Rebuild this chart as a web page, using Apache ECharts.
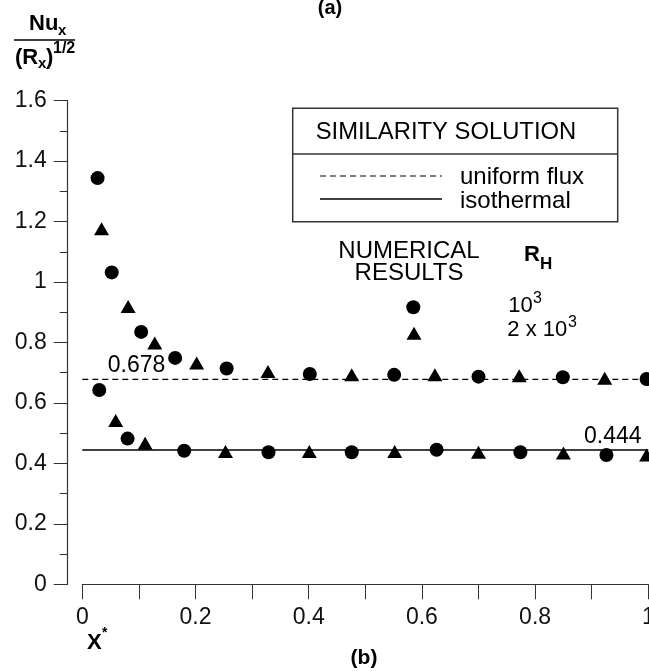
<!DOCTYPE html>
<html>
<head>
<meta charset="utf-8">
<script src="https://cdn.jsdelivr.net/npm/echarts@6/dist/echarts.min.js"></script>
<style>
  html, body { margin: 0; padding: 0; background: #fff; }
  #chart { width: 649px; height: 672px; }
</style>
</head>
<body>
<div id="chart"></div>
<script>
// ---- Data ----
const uniformFluxValue = 0.678;
const isothermalValue = 0.444;
const xTickLabels = ['0', '0.2', '0.4', '0.6', '0.8', '1'];
const yTickLabels = ['0', '0.2', '0.4', '0.6', '0.8', '1', '1.2', '1.4', '1.6'];

// R_H = 10^3 (circles), uniform flux case
const circlesUniformFlux = [
  [0.027, 1.344], [0.052, 1.032], [0.104, 0.835], [0.164, 0.749], [0.255, 0.714],
  [0.402, 0.696], [0.551, 0.693], [0.700, 0.687], [0.849, 0.685], [0.997, 0.679]
];
// R_H = 2 x 10^3 (triangles), uniform flux case
const trianglesUniformFlux = [
  [0.034, 1.176], [0.081, 0.919], [0.128, 0.798], [0.202, 0.732], [0.328, 0.704],
  [0.476, 0.693], [0.623, 0.693], [0.772, 0.690], [0.923, 0.682]
];
// R_H = 10^3 (circles), isothermal case
const circlesIsothermal = [
  [0.030, 0.643], [0.080, 0.482], [0.180, 0.442], [0.329, 0.437], [0.476, 0.437],
  [0.626, 0.445], [0.774, 0.437], [0.926, 0.428]
];
// R_H = 2 x 10^3 (triangles), isothermal case
const trianglesIsothermal = [
  [0.059, 0.542], [0.111, 0.467], [0.253, 0.439], [0.401, 0.439], [0.552, 0.439],
  [0.700, 0.437], [0.850, 0.434], [0.997, 0.428]
];

// ---- Chart ----
const FONT = 'Liberation Sans, Arial, Helvetica, sans-serif';
const chart = echarts.init(document.getElementById('chart'), null, { renderer: 'canvas' });

function txt(text, x, y, size, opts) {
  opts = opts || {};
  return {
    type: 'text', x: x, y: y, z: 100,
    style: {
      text: text, fontSize: size, fontFamily: FONT,
      fontWeight: opts.bold ? 'bold' : 'normal',
      fill: '#000', align: opts.align || 'left', verticalAlign: 'middle'
    }
  };
}

const scatterBase = {
  type: 'scatter',
  itemStyle: { color: '#000', opacity: 1 },
  silent: true,
  clip: false
};

chart.setOption({
  animation: false,
  backgroundColor: '#fff',
  grid: { left: 82.3, right: 0.7, top: 100.7, bottom: 87.7, containLabel: false, outerBoundsMode: 'none' },
  xAxis: {
    type: 'value', min: 0, max: 1, interval: 0.2,
    axisLine: { show: true, lineStyle: { color: '#333', width: 1.2 } },
    axisTick: { show: true, length: 15, lineStyle: { color: '#333', width: 1 } },
    minorTick: { show: true, splitNumber: 2, length: 15, lineStyle: { color: '#333', width: 1 } },
    splitLine: { show: false },
    axisLabel: {
      color: '#111', fontSize: 23, fontFamily: FONT, margin: 22,
      formatter: function (v) { return xTickLabels[Math.round(v / 0.2)]; }
    }
  },
  yAxis: {
    type: 'value', min: 0, max: 1.6, interval: 0.2, offset: 14.6,
    axisLine: { show: true, onZero: false, lineStyle: { color: '#333', width: 1.2 } },
    axisTick: { show: true, length: 14, lineStyle: { color: '#333', width: 1 } },
    minorTick: { show: true, splitNumber: 2, length: 8, lineStyle: { color: '#333', width: 1 } },
    splitLine: { show: false },
    axisLabel: {
      color: '#111', fontSize: 23, fontFamily: FONT, margin: 21,
      formatter: function (v) { return yTickLabels[Math.round(v / 0.2)]; }
    }
  },
  series: [
    {
      name: 'uniform flux', type: 'line', symbol: 'none', silent: true,
      data: [[0, uniformFluxValue], [1, uniformFluxValue]],
      lineStyle: { color: '#000', width: 1.3, type: [6, 4] }
    },
    {
      name: 'isothermal', type: 'line', symbol: 'none', silent: true,
      data: [[0, isothermalValue], [1, isothermalValue]],
      lineStyle: { color: '#000', width: 1.5 }
    },
    Object.assign({}, scatterBase, { name: '10^3 uf', symbol: 'circle', symbolSize: 14, data: circlesUniformFlux }),
    Object.assign({}, scatterBase, { name: '2x10^3 uf', symbol: 'triangle', symbolSize: [15, 13], data: trianglesUniformFlux }),
    Object.assign({}, scatterBase, { name: '10^3 iso', symbol: 'circle', symbolSize: 14, data: circlesIsothermal }),
    Object.assign({}, scatterBase, { name: '2x10^3 iso', symbol: 'triangle', symbolSize: [15, 13], data: trianglesIsothermal })
  ]
});

// Annotations anchored to data coordinates
const pUf = chart.convertToPixel({ gridIndex: 0 }, [0.045, uniformFluxValue]);
const pIso = chart.convertToPixel({ gridIndex: 0 }, [0.988, isothermalValue]);

const graphics = [
  // y-axis title: Nu_x / (R_x)^{1/2}
  txt('Nu', 29, 24, 22, { bold: true }),
  txt('x', 58, 31, 15, { bold: true }),
  { type: 'line', shape: { x1: 14, y1: 40, x2: 75, y2: 40 }, style: { stroke: '#000', lineWidth: 1.6 } },
  txt('(R', 15, 58, 22, { bold: true }),
  txt('x', 38, 64, 15, { bold: true }),
  txt(')', 46, 58, 22, { bold: true }),
  txt('1/2', 53, 49, 16, { bold: true }),
  // (a) at top
  txt('(a)', 330, 8, 20, { bold: true, align: 'center' }),
  // x-axis title X*
  txt('X', 87, 643, 22, { bold: true }),
  txt('*', 102, 633, 14, { bold: true }),
  // (b)
  txt('(b)', 364, 658, 21, { bold: true, align: 'center' }),
  // value annotations
  {
    type: 'text', x: pUf[0], y: pUf[1] - 2, z: 100,
    style: { text: '0.678', fontSize: 23, fontFamily: FONT, fill: '#000', align: 'left', verticalAlign: 'bottom' }
  },
  {
    type: 'text', x: pIso[0], y: pIso[1] - 2, z: 100,
    style: { text: '0.444', fontSize: 23, fontFamily: FONT, fill: '#000', align: 'right', verticalAlign: 'bottom' }
  },
  // legend box
  { type: 'rect', shape: { x: 292.7, y: 108.3, width: 325, height: 113.4 }, style: { fill: '#fff', stroke: '#333', lineWidth: 1.5 }, z: 50 },
  { type: 'line', shape: { x1: 292.7, y1: 154, x2: 617.7, y2: 154 }, style: { stroke: '#333', lineWidth: 1.5 }, z: 51 },
  txt('SIMILARITY SOLUTION', 315.7, 132.7, 23.8),
  { type: 'line', shape: { x1: 320, y1: 176, x2: 442, y2: 176 }, style: { stroke: '#000', lineWidth: 1.2, lineDash: [6, 4] }, z: 51 },
  txt('uniform flux', 460, 177, 24),
  { type: 'line', shape: { x1: 320, y1: 199, x2: 442, y2: 199 }, style: { stroke: '#000', lineWidth: 1.5 }, z: 51 },
  txt('isothermal', 460, 201.5, 24),
  // numerical results legend
  txt('NUMERICAL', 409, 251, 24, { align: 'center' }),
  txt('RESULTS', 409, 273, 24, { align: 'center' }),
  txt('R', 524, 254.5, 22, { bold: true }),
  txt('H', 540, 264, 17, { bold: true }),
  { type: 'circle', shape: { cx: 413.3, cy: 307.3, r: 7 }, style: { fill: '#000' }, z: 51 },
  { type: 'polygon', shape: { points: [[414, 326.8], [421.5, 339.8], [406.5, 339.8]] }, style: { fill: '#000' }, z: 51 },
  txt('10', 508.3, 306, 22),
  txt('3', 533, 299, 16),
  txt('2 x 10', 507.3, 329.5, 22),
  txt('3', 568, 323, 16)
];
chart.setOption({ graphic: graphics });
</script>
</body>
</html>
